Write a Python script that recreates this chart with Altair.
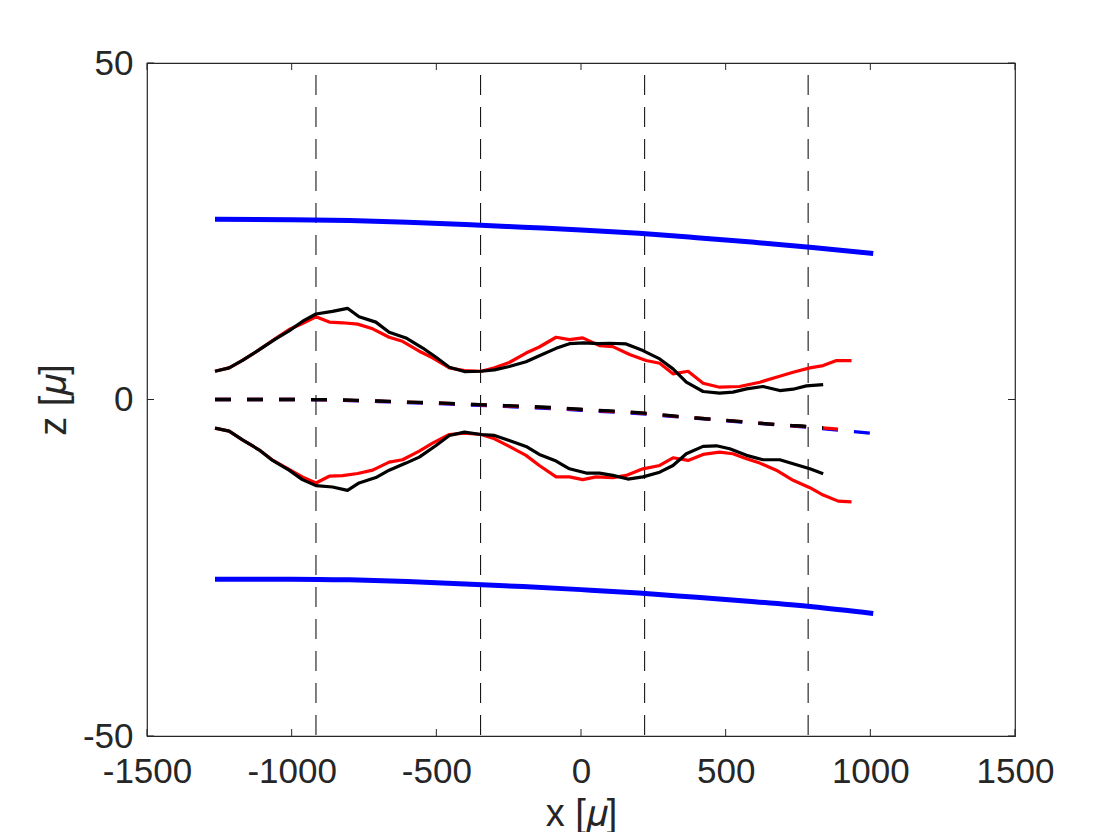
import altair as alt
import pandas as pd

# ---------------- data ----------------
x_tick_values = [-1500, -1000, -500, 0, 500, 1000, 1500]
z_tick_values = [-50, 0, 50]
vline_x = [-916, -347, 220, 785]

# blue envelope (thick solid)
blue_x = [-1265, -1000, -800, -600, -400, -200, 0, 200, 400, 600, 800, 1010]
blue_upper_z = [26.8, 26.7, 26.6, 26.35, 26.0, 25.6, 25.2, 24.7, 24.05, 23.35, 22.6, 21.7]
blue_lower_z = [-26.7, -26.7, -26.8, -27.05, -27.4, -27.8, -28.25, -28.75, -29.4, -30.05, -30.8, -31.8]

# centre lines (dashed)
blue_c_x = [-1265, -1000, -900, -800, -700, -600, -500, -400, -300, -200, -100, 0,
            100, 200, 300, 400, 500, 600, 700, 800, 900, 1010]
blue_c_z = [0, 0, -0.05, -0.15, -0.3, -0.45, -0.6, -0.8, -0.95, -1.15, -1.35, -1.6,
            -1.85, -2.1, -2.45, -2.8, -3.15, -3.5, -3.85, -4.2, -4.6, -5.05]
red_c_x = [-1265, -1000, -900, -800, -700, -600, -500, -400, -300, -200, -100, 0,
           100, 200, 300, 400, 500, 600, 700, 800, 900, 935]
red_c_z = [0, 0, -0.03, -0.12, -0.25, -0.4, -0.52, -0.7, -0.88, -1.05, -1.25, -1.5,
           -1.75, -2.0, -2.4, -2.75, -3.1, -3.45, -3.8, -4.1, -4.45, -4.55]
black_c_x = [-1265, -1000, -900, -800, -700, -600, -500, -400, -300, -200, -100, 0,
             100, 200, 300, 400, 500, 600, 700, 800, 837]
black_c_z = [0, 0, -0.02, -0.1, -0.22, -0.38, -0.5, -0.68, -0.85, -1.0, -1.2, -1.45,
             -1.7, -1.95, -2.35, -2.75, -3.1, -3.45, -3.8, -4.05, -4.2]

# red profile (solid)
red_upper_x = [-1265, -1216, -1170, -1113, -1055, -1009, -963, -916, -870, -824, -772,
               -720, -663, -617, -559, -513, -455, -403, -345, -299, -248, -190, -144,
               -86, -40, 6, 64, 110, 168, 225, 272, 318, 370, 422, 479, 548, 618, 675,
               733, 791, 837, 883, 935]
red_upper_z = [4.2, 4.7, 5.8, 7.37, 9.1, 10.4, 11.3, 12.3, 11.5, 11.4, 11.2,
               10.5, 9.25, 8.65, 7.17, 6.2, 4.7, 4.3, 4.2, 4.7, 5.5, 6.9, 7.8,
               9.25, 8.9, 9.15, 8.0, 7.86, 6.68, 5.79, 5.39, 3.81, 4.2, 2.42, 1.83, 1.93,
               2.57, 3.31, 4.06, 4.7, 5.04, 5.79, 5.79]
red_lower_x = [-1265, -1216, -1170, -1113, -1066, -1009, -963, -916, -870, -824, -772,
               -720, -663, -617, -559, -513, -455, -403, -345, -299, -248, -190, -144,
               -86, -40, 6, 52, 110, 156, 214, 272, 318, 370, 422, 479, 525, 572, 618,
               675, 733, 791, 837, 889, 935]
red_lower_z = [-4.25, -4.7, -6.0, -7.47, -9.0, -10.4, -11.5, -12.4, -11.4, -11.3, -11.0,
               -10.5, -9.3, -8.95, -7.67, -6.48, -5.2, -5.0, -5.2, -5.84, -6.97, -8.3,
               -9.8, -11.5, -11.5, -11.9, -11.5, -11.6, -11.28, -10.3, -9.8, -8.66,
               -9.05, -8.16, -7.82, -8.06, -8.8, -9.45, -10.5, -12.0, -13.1, -14.2,
               -15.1, -15.2]

# black profile (solid)
black_upper_x = [-1265, -1216, -1170, -1113, -1055, -1009, -963, -916, -859, -807, -767,
                 -709, -663, -605, -547, -501, -455, -403, -345, -299, -248, -190, -144,
                 -86, -40, 10, 60, 99, 156, 214, 272, 318, 364, 422, 479, 525, 572, 629,
                 687, 733, 779, 837]
black_upper_z = [4.2, 4.7, 5.8, 7.37, 9.0, 10.2, 11.6, 12.7, 13.1, 13.55, 12.3,
                 11.5, 10.0, 9.15, 7.65, 6.28, 4.8, 4.15, 4.2, 4.4, 4.9, 5.6, 6.5,
                 7.6, 8.3, 8.4, 8.3, 8.36, 8.26, 7.27, 6.03, 4.55, 2.57, 1.19, 0.94, 1.09,
                 1.58, 1.93, 1.33, 1.53, 2.03, 2.22]
black_lower_x = [-1265, -1216, -1170, -1113, -1066, -1009, -963, -916, -859, -807, -767,
                 -709, -663, -605, -559, -501, -455, -403, -345, -299, -248, -190, -144,
                 -86, -40, 18, 64, 110, 162, 214, 272, 318, 364, 422, 468, 514, 572, 629,
                 687, 733, 791, 837]
black_lower_z = [-4.25, -4.7, -6.0, -7.47, -9.05, -10.5, -11.9, -12.8, -13.0, -13.5, -12.4,
                 -11.6, -10.5, -9.45, -8.56, -6.83, -5.34, -4.85, -5.2, -5.34, -6.08,
                 -6.97, -8.16, -9.15, -10.3, -10.93, -10.93, -11.28, -11.82, -11.5,
                 -10.8, -9.8, -8.06, -6.97, -6.88, -7.32, -8.3, -8.95, -8.95, -9.55,
                 -10.3, -11.03]

# ---------------- helpers ----------------
def series(pairs):
    rows = []
    for part, (xs, zs) in pairs.items():
        for i, (xv, zv) in enumerate(zip(xs, zs)):
            rows.append({"x": xv, "z": zv, "part": part, "i": i})
    return pd.DataFrame(rows)


FONT = "Liberation Sans"
AX = "#262626"
W, H = 868, 673

xscale = alt.Scale(domain=[-1500, 1500], nice=False, zero=False)
zscale = alt.Scale(domain=[-50, 50], nice=False, zero=False)

xaxis = alt.Axis(values=x_tick_values, ticks=False, tickSize=0, domain=False, grid=False,
                 labelFont=FONT, labelFontSize=35, labelColor=AX, labelPadding=18,
                 labelFlush=False, labelOverlap=False, labelExpr="'' + datum.value",
                 title="x [𝜇]", titleFont=FONT, titleFontSize=38, titleColor=AX,
                 titleFontWeight="normal", titleBaseline="alphabetic", titleY=89)
zaxis = alt.Axis(values=z_tick_values, ticks=False, tickSize=0, domain=False, grid=False,
                 labelFont=FONT, labelFontSize=35, labelColor=AX, labelPadding=14,
                 labelFlush=False, labelOverlap=False, labelExpr="'' + datum.value",
                 title="z [𝜇]", titleFont=FONT, titleFontSize=38, titleColor=AX,
                 titleFontWeight="normal", titleBaseline="alphabetic",
                 titleAngle=270, titleX=-82, titleY=H / 2, titleAlign="center")

X = alt.X("x:Q", scale=xscale, axis=xaxis)
Z = alt.Y("z:Q", scale=zscale, axis=zaxis)


def line_layer(df, color, width, dash=None, interp="linear"):
    kw = dict(color=color, strokeWidth=width, strokeCap="butt", strokeJoin="round",
              clip=True, interpolate=interp)
    if dash:
        kw["strokeDash"] = dash
    return alt.Chart(df).mark_line(**kw).encode(x=X, y=Z, detail="part:N", order="i:Q")


vlines = alt.Chart(pd.DataFrame({"x": vline_x})).mark_rule(
    color="black", strokeWidth=1, strokeDash=[20, 12], strokeDashOffset=20
).encode(x=X, y=alt.value(0), y2=alt.value(H))

blue_solid = line_layer(series({"u": (blue_x, blue_upper_z), "l": (blue_x, blue_lower_z)}),
                        "#0000FF", 5, interp="monotone")
blue_dash = line_layer(series({"c": (blue_c_x, blue_c_z)}), "#0000FF", 3.3, [16, 16], "monotone")
red_solid = line_layer(series({"u": (red_upper_x, red_upper_z), "l": (red_lower_x, red_lower_z)}),
                       "#FF0000", 3.2)
red_dash = line_layer(series({"c": (red_c_x, red_c_z)}), "#FF0000", 3.3, [16, 16], "monotone")
black_solid = line_layer(series({"u": (black_upper_x, black_upper_z),
                                 "l": (black_lower_x, black_lower_z)}), "#000000", 3.2)
black_dash = line_layer(series({"c": (black_c_x, black_c_z)}), "#000000", 3.3, [16, 16], "monotone")

xt = pd.DataFrame({"x": x_tick_values})
zt = pd.DataFrame({"z": z_tick_values})
tick_kw = dict(color=AX, strokeWidth=1)
xticks_bottom = alt.Chart(xt).mark_rule(**tick_kw).encode(x=X, y=alt.value(H), y2=alt.value(H - 7))
xticks_top = alt.Chart(xt).mark_rule(**tick_kw).encode(x=X, y=alt.value(0), y2=alt.value(7))
zticks_left = alt.Chart(zt).mark_rule(**tick_kw).encode(y=Z, x=alt.value(0), x2=alt.value(7))
zticks_right = alt.Chart(zt).mark_rule(**tick_kw).encode(y=Z, x=alt.value(W), x2=alt.value(W - 7))

chart = alt.layer(
    vlines, blue_solid, blue_dash, red_solid, red_dash, black_solid, black_dash,
    xticks_bottom, xticks_top, zticks_left, zticks_right,
).properties(
    width=W, height=H,
    autosize=alt.AutoSizeParams(type="none"),
    padding={"left": 139, "top": 55, "right": 90, "bottom": 96},
    background="white",
).configure_view(stroke=AX, strokeWidth=1.2)

chart.save("out.html", embed_options={"renderer": "svg", "actions": False})
